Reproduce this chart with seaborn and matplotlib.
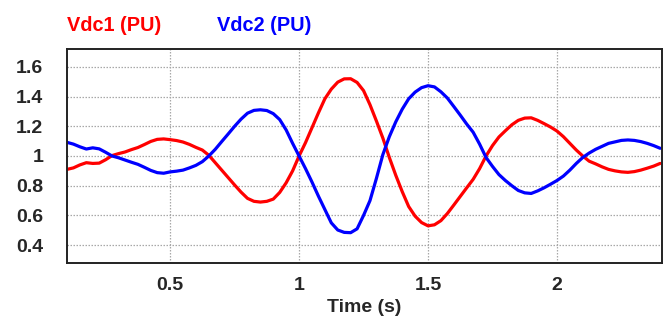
import numpy as np
import pandas as pd
import matplotlib
matplotlib.use("Agg")
import matplotlib.pyplot as plt
from matplotlib.ticker import FuncFormatter
import seaborn as sns

# Time axis (s) and the two DC-link voltages in per-unit
time_s = [
    0.100, 0.125, 0.150, 0.175, 0.200, 0.225, 0.250, 0.275, 0.300, 0.325,
    0.350, 0.375, 0.400, 0.425, 0.450, 0.475, 0.500, 0.525, 0.550, 0.575,
    0.600, 0.625, 0.650, 0.675, 0.700, 0.725, 0.750, 0.775, 0.800, 0.825,
    0.850, 0.875, 0.900, 0.925, 0.950, 0.975, 1.000, 1.025, 1.050, 1.075,
    1.100, 1.125, 1.150, 1.175, 1.200, 1.225, 1.250, 1.275, 1.300, 1.325,
    1.350, 1.375, 1.400, 1.425, 1.450, 1.475, 1.500, 1.525, 1.550, 1.575,
    1.600, 1.625, 1.650, 1.675, 1.700, 1.725, 1.750, 1.775, 1.800, 1.825,
    1.850, 1.875, 1.900, 1.925, 1.950, 1.975, 2.000, 2.025, 2.050, 2.075,
    2.100, 2.125, 2.150, 2.175, 2.200, 2.225, 2.250, 2.275, 2.300, 2.325,
    2.350, 2.375, 2.400,
]

vdc1_pu = [
    0.910, 0.920, 0.940, 0.955, 0.950, 0.952, 0.975, 1.003, 1.016, 1.027,
    1.043, 1.057, 1.077, 1.098, 1.112, 1.115, 1.110, 1.104, 1.094, 1.078,
    1.058, 1.040, 1.005, 0.955, 0.905, 0.855, 0.805, 0.757, 0.715, 0.695,
    0.690, 0.695, 0.710, 0.755, 0.820, 0.900, 1.000, 1.090, 1.190, 1.290,
    1.385, 1.450, 1.497, 1.519, 1.520, 1.495, 1.440, 1.345, 1.235, 1.120,
    0.990, 0.870, 0.760, 0.660, 0.595, 0.552, 0.530, 0.537, 0.565, 0.613,
    0.670, 0.728, 0.786, 0.843, 0.915, 1.000, 1.070, 1.128, 1.170, 1.210,
    1.240, 1.255, 1.257, 1.240, 1.218, 1.195, 1.168, 1.130, 1.085, 1.040,
    1.000, 0.965, 0.947, 0.927, 0.910, 0.900, 0.893, 0.890, 0.895, 0.905,
    0.918, 0.932, 0.950,
]

vdc2_pu = [
    1.092, 1.080, 1.062, 1.047, 1.055, 1.048, 1.025, 1.000, 0.988, 0.973,
    0.958, 0.944, 0.924, 0.903, 0.888, 0.884, 0.893, 0.898, 0.905, 0.920,
    0.937, 0.962, 1.000, 1.045, 1.097, 1.148, 1.200, 1.248, 1.288, 1.307,
    1.311, 1.306, 1.285, 1.245, 1.175, 1.085, 1.000, 0.915, 0.825, 0.730,
    0.640, 0.550, 0.502, 0.486, 0.484, 0.510, 0.600, 0.700, 0.850, 1.010,
    1.130, 1.230, 1.315, 1.385, 1.430, 1.460, 1.473, 1.465, 1.432, 1.390,
    1.333, 1.275, 1.215, 1.160, 1.080, 0.990, 0.930, 0.875, 0.835, 0.800,
    0.768, 0.752, 0.748, 0.765, 0.786, 0.810, 0.835, 0.865, 0.905, 0.950,
    0.990, 1.020, 1.045, 1.065, 1.085, 1.095, 1.105, 1.108, 1.105, 1.097,
    1.085, 1.070, 1.052,
]

series_names = ["Vdc1 (PU)", "Vdc2 (PU)"]
series_colors = ["#ff0000", "#0000ff"]
x_ticks = [0.5, 1.0, 1.5, 2.0]
y_ticks = [0.4, 0.6, 0.8, 1.0, 1.2, 1.4, 1.6]

df = pd.DataFrame({
    "Time (s)": time_s * 2,
    "value": vdc1_pu + vdc2_pu,
    "series": [series_names[0]] * len(time_s) + [series_names[1]] * len(time_s),
})

sns.set_style("white")
plt.rcParams["font.family"] = ["Liberation Sans", "DejaVu Sans"]

fig = plt.figure(figsize=(6.67, 3.25), dpi=100)
ax = fig.add_axes([0.1004, 0.1908, 0.892, 0.6584])

sns.lineplot(data=df, x="Time (s)", y="value", hue="series",
             palette=dict(zip(series_names, series_colors)),
             linewidth=2.3, legend=False, ax=ax, sort=False)

ax.set_xlim(0.1, 2.407)
ax.set_ylim(0.28, 1.72)
ax.set_xticks(x_ticks)
ax.set_yticks(y_ticks)
fmt = FuncFormatter(lambda v, p: f"{v:g}")
ax.xaxis.set_major_formatter(fmt)
ax.yaxis.set_major_formatter(fmt)

ax.grid(True, color="#a8a8a8", linestyle=(0, (1.2, 1.2)), linewidth=0.9)
ax.set_axisbelow(True)
for side in ["left", "bottom", "top", "right"]:
    ax.spines[side].set_visible(True)
    ax.spines[side].set_color("#222222")
    ax.spines[side].set_linewidth(1.4)

ax.tick_params(axis="both", length=0, labelsize=14)
ax.tick_params(axis="y", pad=17)
ax.tick_params(axis="x", pad=10)
for lbl in ax.get_xticklabels() + ax.get_yticklabels():
    lbl.set_fontweight("bold")

ax.set_ylabel("")
ax.set_xlabel("Time (s)", fontsize=14, fontweight="bold", labelpad=4)

# Series names above the plot, coloured like their curves
fig.text(67 / 667, 1 - 31 / 325, series_names[0], color=series_colors[0],
         fontsize=14.3, fontweight="bold", ha="left", va="baseline")
fig.text(217 / 667, 1 - 31 / 325, series_names[1], color=series_colors[1],
         fontsize=14.3, fontweight="bold", ha="left", va="baseline")

fig.savefig("out.png", dpi=100)
